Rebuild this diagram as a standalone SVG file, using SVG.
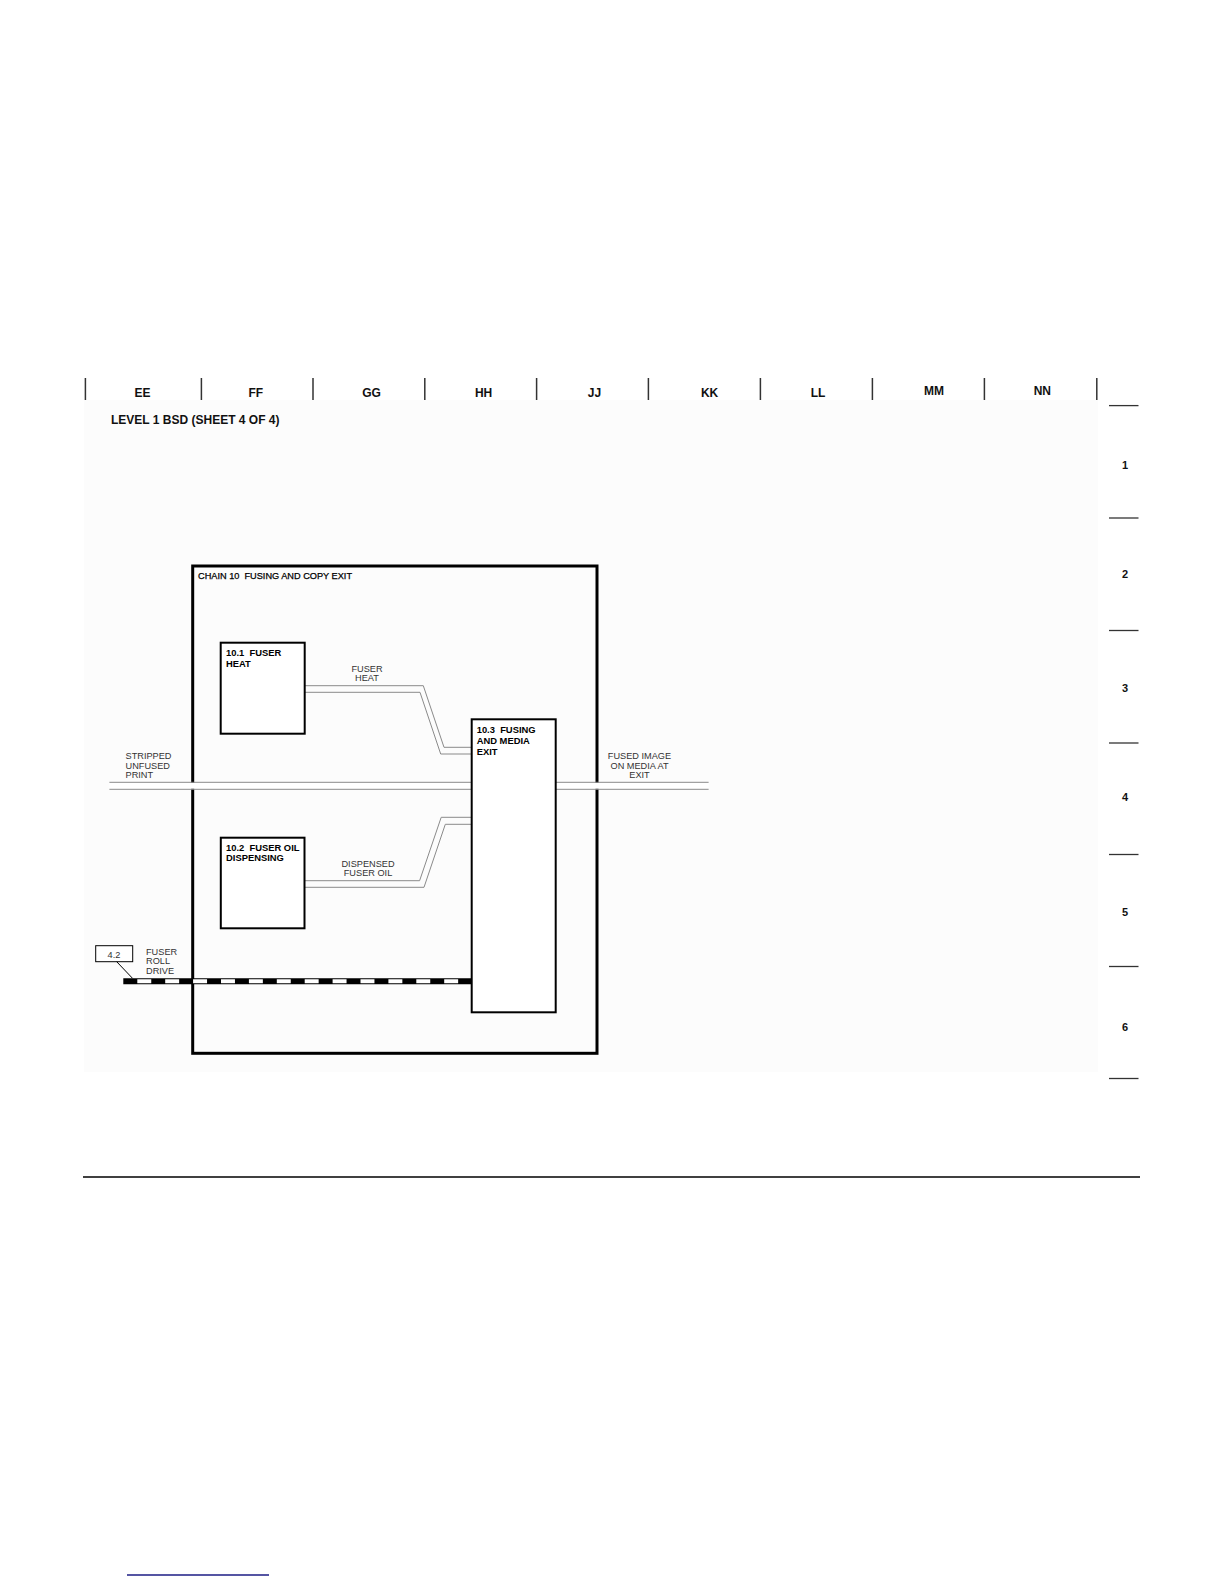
<svg xmlns="http://www.w3.org/2000/svg" width="1224" height="1584" viewBox="0 0 1224 1584">
<defs>
<style>
.hdr{font-family:"Liberation Sans",Arial,sans-serif;font-size:12px;font-weight:bold;fill:#111;text-anchor:middle}
.row{font-family:"Liberation Sans",Arial,sans-serif;font-size:11px;font-weight:bold;fill:#111;text-anchor:middle}
.title{font-family:"Liberation Sans",Arial,sans-serif;font-size:12px;font-weight:bold;fill:#111}
.chain{font-family:"Liberation Sans",Arial,sans-serif;font-size:9.2px;fill:#000;stroke:#000;stroke-width:0.25;white-space:pre}
.node{font-family:"Liberation Sans",Arial,sans-serif;font-size:9.4px;font-weight:bold;fill:#000;white-space:pre}
.lbl{font-family:"Liberation Sans",Arial,sans-serif;font-size:9.2px;fill:#333}
.tick{stroke:#333;stroke-width:1.5}
.rule{stroke:#333;stroke-width:1.3}
.box{fill:#fff;stroke:#000;stroke-width:2}
.flow{fill:none;stroke:#8a8a8a;stroke-width:1}
</style>
</defs>
<rect x="0" y="0" width="1224" height="1584" fill="#fff"/>
<rect x="84" y="400" width="1014" height="672" fill="#fcfcfc"/>

<g id="frame">
<line class="tick" x1="85.4" y1="378" x2="85.4" y2="400"/>
<line class="tick" x1="201.4" y1="378" x2="201.4" y2="400"/>
<line class="tick" x1="313" y1="378" x2="313" y2="400" stroke="#777"/>
<line class="tick" x1="424.8" y1="378" x2="424.8" y2="400"/>
<line class="tick" x1="536.6" y1="378" x2="536.6" y2="400"/>
<line class="tick" x1="648.4" y1="378" x2="648.4" y2="400"/>
<line class="tick" x1="760.4" y1="378" x2="760.4" y2="400"/>
<line class="tick" x1="872.4" y1="378" x2="872.4" y2="400"/>
<line class="tick" x1="984.4" y1="378" x2="984.4" y2="400"/>
<line class="tick" x1="1096.8" y1="378" x2="1096.8" y2="400"/>
<text class="hdr" x="142.5" y="397">EE</text>
<text class="hdr" x="255.8" y="397">FF</text>
<text class="hdr" x="371.5" y="397">GG</text>
<text class="hdr" x="483.6" y="397">HH</text>
<text class="hdr" x="594.5" y="397">JJ</text>
<text class="hdr" x="709.6" y="397">KK</text>
<text class="hdr" x="818" y="397">LL</text>
<text class="hdr" x="934" y="395">MM</text>
<text class="hdr" x="1042.3" y="395">NN</text>
<text class="title" x="111" y="424">LEVEL 1 BSD (SHEET 4 OF 4)</text>
<line class="rule" x1="1109" y1="405.6" x2="1138.5" y2="405.6"/>
<line class="rule" x1="1109" y1="518" x2="1138.5" y2="518"/>
<line class="rule" x1="1109" y1="630.5" x2="1138.5" y2="630.5"/>
<line class="rule" x1="1109" y1="743" x2="1138.5" y2="743"/>
<line class="rule" x1="1109" y1="854.5" x2="1138.5" y2="854.5"/>
<line class="rule" x1="1109" y1="966.5" x2="1138.5" y2="966.5"/>
<line class="rule" x1="1109" y1="1078.5" x2="1138.5" y2="1078.5"/>
<text class="row" x="1125" y="469">1</text>
<text class="row" x="1125" y="578">2</text>
<text class="row" x="1125" y="692">3</text>
<text class="row" x="1125" y="801">4</text>
<text class="row" x="1125" y="916">5</text>
<text class="row" x="1125" y="1031">6</text>
<line x1="83" y1="1177" x2="1140" y2="1177" stroke="#000" stroke-width="1.6"/>
<line x1="127" y1="1575" x2="269" y2="1575" stroke="#1c1c84" stroke-width="1.4"/>
</g>

<g id="chain-10">
<rect x="192.7" y="566" width="404.3" height="487.3" fill="none" stroke="#000" stroke-width="3"/>
<text class="chain" x="198" y="579" xml:space="preserve">CHAIN 10  FUSING AND COPY EXIT</text>
</g>

<g id="connectors">
<g id="media-path">
<rect x="109.4" y="782.8" width="362.3" height="6" fill="#fff"/>
<rect x="555.7" y="782.8" width="153" height="6" fill="#fff"/>
<line class="flow" x1="109.4" y1="782.3" x2="471.7" y2="782.3"/>
<line class="flow" x1="109.4" y1="789.3" x2="471.7" y2="789.3"/>
<line class="flow" x1="555.7" y1="782.3" x2="708.6" y2="782.3"/>
<line class="flow" x1="555.7" y1="789.3" x2="708.6" y2="789.3"/>
</g>
<g id="fuser-heat">
<polyline class="flow" points="304.7,685.7 423.3,685.7 444,747.3 471.7,747.3"/>
<polyline class="flow" points="304.7,692.3 420,692.3 440.7,754 471.7,754"/>
</g>
<g id="fuser-oil">
<polyline class="flow" points="304.5,880.7 419.6,880.7 441.2,817.3 471.7,817.3"/>
<polyline class="flow" points="304.5,887.3 424,887.3 445.3,824.3 471.7,824.3"/>
</g>
<g id="fuser-roll-drive">
<line x1="123.3" y1="981.3" x2="471" y2="981.3" stroke="#000" stroke-width="6"/>
<line x1="137.3" y1="981.3" x2="458.3" y2="981.3" stroke="#fff" stroke-width="4" stroke-dasharray="13.95 13.95"/>
</g>
</g>

<g id="labels">
<text class="lbl" x="367" y="671.7" text-anchor="middle">FUSER</text>
<text class="lbl" x="367" y="681" text-anchor="middle">HEAT</text>
<text class="lbl" x="368" y="866.7" text-anchor="middle">DISPENSED</text>
<text class="lbl" x="368" y="875.7" text-anchor="middle">FUSER OIL</text>
<text class="lbl" x="125.5" y="759.3">STRIPPED</text>
<text class="lbl" x="125.5" y="768.7">UNFUSED</text>
<text class="lbl" x="125.5" y="778.3">PRINT</text>
<text class="lbl" x="639.5" y="759.3" text-anchor="middle">FUSED IMAGE</text>
<text class="lbl" x="639.5" y="768.7" text-anchor="middle">ON MEDIA AT</text>
<text class="lbl" x="639.5" y="778.3" text-anchor="middle">EXIT</text>
<text class="lbl" x="146" y="955">FUSER</text>
<text class="lbl" x="146" y="964.3">ROLL</text>
<text class="lbl" x="146" y="973.7">DRIVE</text>
</g>

<g id="ref-4-2">
<rect x="95.7" y="945.7" width="37" height="16" fill="#fff" stroke="#000" stroke-width="1"/>
<line x1="116.7" y1="961.7" x2="132.5" y2="978.3" stroke="#000" stroke-width="1"/>
<text class="lbl" x="114" y="957.7" text-anchor="middle" fill="#222">4.2</text>
</g>

<g id="node-10-1">
<rect class="box" x="220.7" y="642.7" width="84" height="91"/>
<text class="node" x="226" y="656" xml:space="preserve">10.1  FUSER</text>
<text class="node" x="226" y="666.7">HEAT</text>
</g>

<g id="node-10-2">
<rect class="box" x="220.8" y="837.7" width="83.7" height="90.6"/>
<text class="node" x="226" y="850.7" xml:space="preserve">10.2  FUSER OIL</text>
<text class="node" x="226" y="861">DISPENSING</text>
</g>

<g id="node-10-3">
<rect class="box" x="471.7" y="719.3" width="84" height="293"/>
<text class="node" x="476.7" y="732.7" xml:space="preserve">10.3  FUSING</text>
<text class="node" x="476.7" y="744">AND MEDIA</text>
<text class="node" x="476.7" y="755">EXIT</text>
</g>
</svg>
